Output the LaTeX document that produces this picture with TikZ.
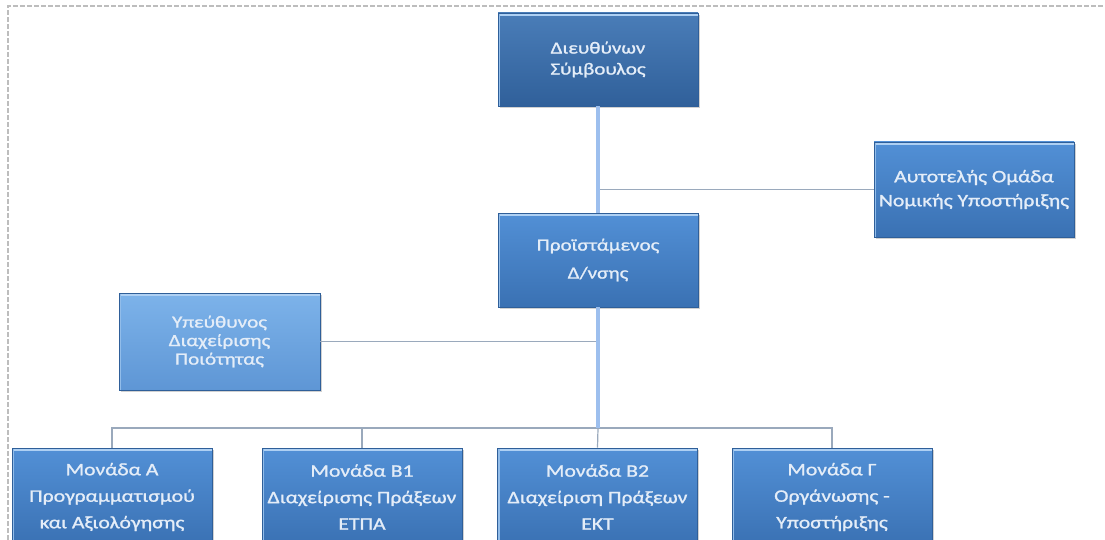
\documentclass[tikz,border=0pt]{standalone}
\usepackage{fontspec}
\setmainfont{Carlito}[FakeStretch=1.24, FakeBold=1.2]
\usetikzlibrary{shadows}
\definecolor{midtop}{HTML}{5290D6}
\definecolor{midbot}{HTML}{3A71B3}
\definecolor{ceotop}{HTML}{4A7DB8}
\definecolor{ceobot}{HTML}{30609A}
\definecolor{qtop}{HTML}{7DB3EA}
\definecolor{qbot}{HTML}{5E96D5}
\definecolor{edge}{HTML}{2F5F99}
\definecolor{hl}{HTML}{AED0F3}
\definecolor{txt}{HTML}{E4EDF8}
\definecolor{conn}{HTML}{9AA9BC}
\definecolor{connblue}{HTML}{9DBFEE}
\definecolor{border}{HTML}{BDBDBD}
\tikzset{
  orgbox/.style={rectangle, minimum width=200pt, minimum height=95pt, inner sep=2pt,
    align=center, text=txt, draw=edge, line width=0.6pt,
    top color=midtop, bottom color=midbot,
    drop shadow={shadow xshift=1.5pt, shadow yshift=-2pt, opacity=0.3, fill=black!60},
    path picture={\draw[line width=3pt, hl]
      ([yshift=-1.5pt]path picture bounding box.north west) --
      ([yshift=-1.5pt]path picture bounding box.north east);
      \draw[line width=2pt, hl!70!midtop]
      ([xshift=1pt]path picture bounding box.north west) --
      ([xshift=1pt]path picture bounding box.south west);}},
  ceobox/.style={orgbox, top color=ceotop, bottom color=ceobot},
  qbox/.style={orgbox, top color=qtop, bottom color=qbot},
  thin/.style={draw=conn, line width=1.2pt},
  thick/.style={draw=connblue, line width=3.4pt},
}
\begin{document}
\begin{tikzpicture}[x=1pt,y=-1pt]
\useasboundingbox (0,0) rectangle (1105,540);
\draw[border, line width=1.6pt, dash pattern=on 5pt off 2pt] (8,540) -- (8,6) -- (1105,6);

\node[ceobox, minimum height=93pt, font=\fontsize{17}{21}\selectfont] (ceo) at (598,59.5) {Διευθύνων\\Σύμβουλος};
\node[orgbox, minimum height=95pt, font=\fontsize{17.5}{24}\selectfont] (legal) at (974,189.5) {Αυτοτελής Ομάδα\\Νομικής Υποστήριξης};
\node[orgbox, minimum height=94pt, font=\fontsize{17}{28}\selectfont] (head) at (598,260) {Προϊστάμενος\\Δ/νσης};
\node[qbox, minimum width=201pt, minimum height=97pt, font=\fontsize{17}{18.5}\selectfont] (qual) at (219.5,341.5) {Υπεύθυνος\\Διαχείρισης\\Ποιότητας};

\node[orgbox, minimum height=98pt, font=\fontsize{17.5}{26.5}\selectfont] (A) at (112,497) {Μονάδα Α\\Προγραμματισμού\\και Αξιολόγησης};
\node[orgbox, minimum height=98pt, font=\fontsize{17.5}{26.5}\selectfont] (B1) at (362,497) {Μονάδα Β1\\Διαχείρισης Πράξεων\\ΕΤΠΑ};
\node[orgbox, minimum height=98pt, font=\fontsize{17.5}{26.5}\selectfont] (B2) at (597.5,497) {Μονάδα Β2\\Διαχείριση Πράξεων\\ΕΚΤ};
\node[orgbox, minimum height=98pt, font=\fontsize{17.5}{26.5}\selectfont] (G) at (832,497) {Μονάδα Γ\\Οργάνωσης -\\Υποστήριξης};

\coordinate (bus) at (598,428);

\draw[thin] (legal.west) -- (legal.west -| ceo.south);
\draw[thin] (qual.east) -- (qual.east -| head.south);
\draw[thin] (A.north) |- (bus);
\draw[thin] (B1.north) |- (bus);
\draw[thin] (G.north) |- (bus);
\draw[thin] (B2.north) -- (bus);
\draw[thick] (ceo.south) -- (head.north);
\draw[thick] (head.south) -- (bus);
\end{tikzpicture}
\end{document}
